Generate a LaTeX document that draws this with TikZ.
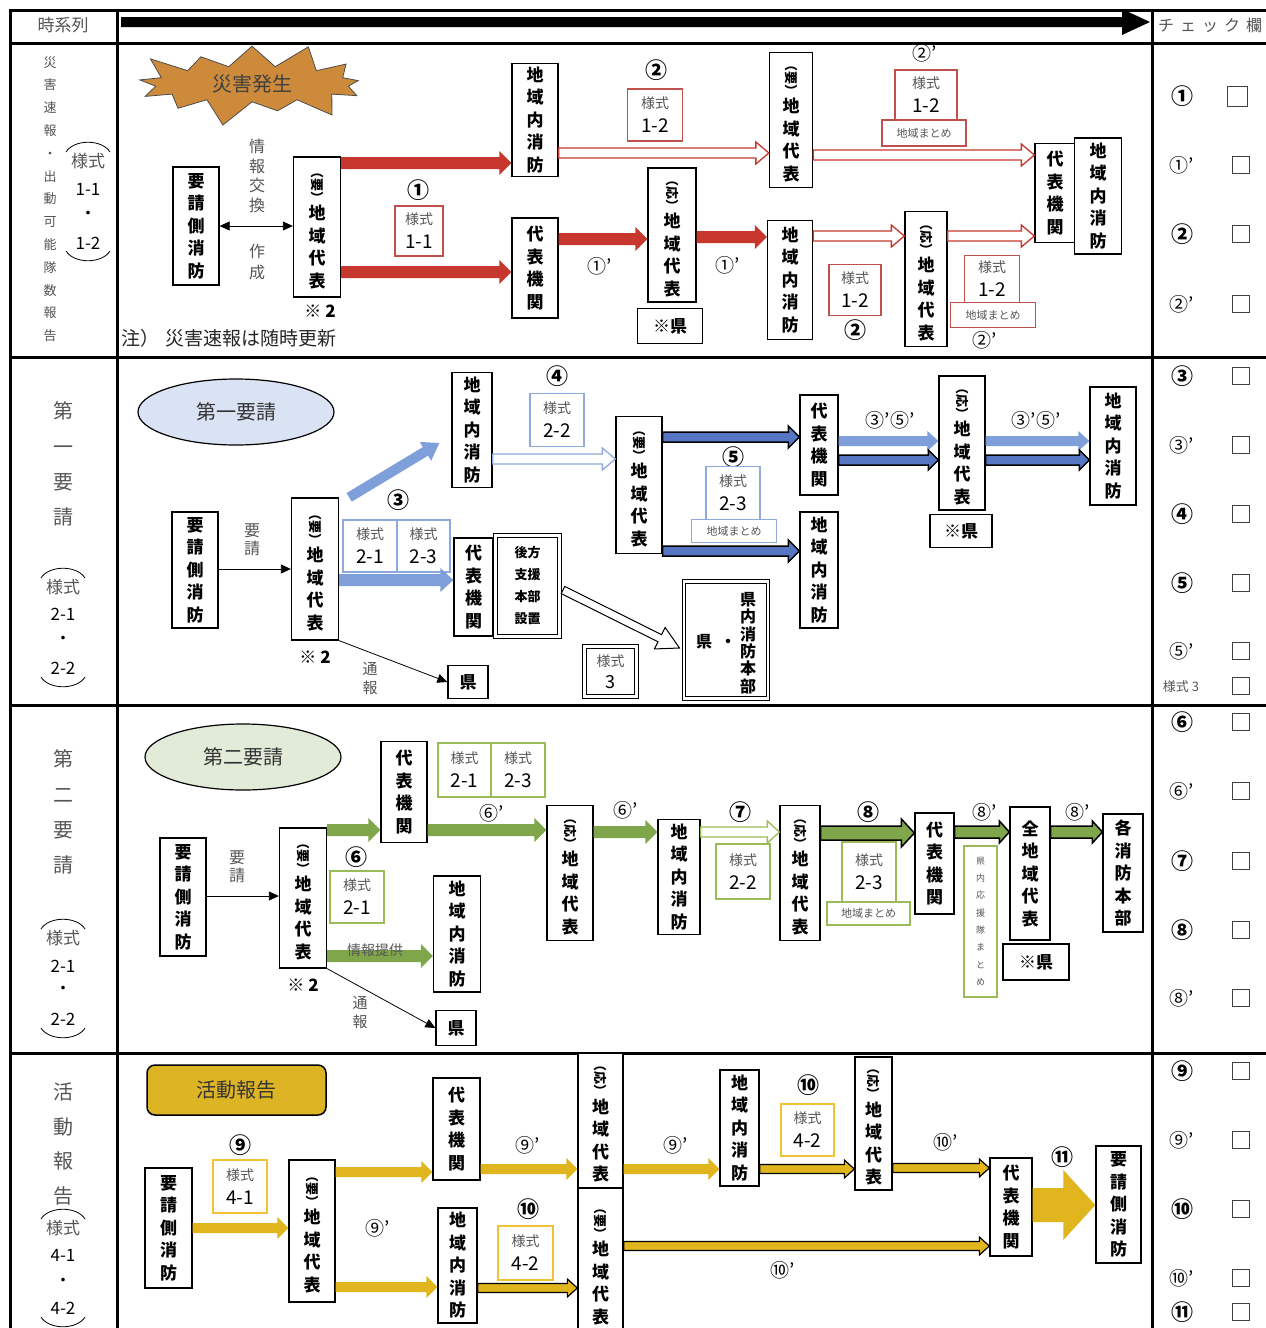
\documentclass[tikz,border=0pt]{standalone}
\usepackage{fontspec}
\usepackage{graphicx}
\setmainfont{Noto Sans CJK JP}
\usetikzlibrary{calc,arrows.meta,shapes.symbols,shapes.geometric}
\definecolor{ared}{HTML}{C8372D}
\definecolor{bred}{HTML}{C0504D}
\definecolor{ablue}{HTML}{7F9FDA}
\definecolor{bblue}{HTML}{8EA9DB}
\definecolor{dblue}{HTML}{5676C4}
\definecolor{agreen}{HTML}{80A64B}
\definecolor{bgreen}{HTML}{9BBB59}
\definecolor{agold}{HTML}{E0B51E}
\definecolor{bgold}{HTML}{F1C232}
\definecolor{gold2}{HTML}{DDB524}
\definecolor{burst}{HTML}{CD8A3B}
\definecolor{ellA}{HTML}{DAE3F3}
\definecolor{ellB}{HTML}{E2EBD8}
\definecolor{tgray}{HTML}{555555}
\newcommand\fs[2]{\fontsize{#1}{#2}\selectfont}
\newcommand\yo{\rotatebox{-90}{\fs{13}{13}（要）}}
\newcommand\oo{\rotatebox{-90}{\fs{13}{13}（応）}}
\newcommand\ys[1]{{\fs{14}{14}\color{tgray}様式}\\{\fs{19}{19}#1}}
% block arrow: [style]{from}{to}{half body}{half head}{head length}
\newcommand\barrow[6][]{%
  \path[#1] let \p1=(#2), \p2=(#3),
    \n1={atan2(\y2-\y1,\x2-\x1)}, \n2={veclen(\x2-\x1,\y2-\y1)} in
    ($(\p1)+(\n1+90:#4)$) -- ($(\p1)+(\n1:\n2*1pt-#6)+(\n1+90:#4)$)
    -- ($(\p1)+(\n1:\n2*1pt-#6)+(\n1+90:#5)$) -- (\p2)
    -- ($(\p1)+(\n1:\n2*1pt-#6)+(\n1-90:#5)$) -- ($(\p1)+(\n1:\n2*1pt-#6)+(\n1-90:#4)$)
    -- ($(\p1)+(\n1-90:#4)$) -- cycle;}
\begin{document}
\begin{tikzpicture}[x=1pt,y=-1pt,
  vb/.style={draw, line width=1.3pt, inner sep=0pt, align=center, fill=white, font=\fs{17}{22.5}\bfseries},
  fb/.style={draw=#1, line width=1.2pt, fill=white, inner sep=0pt, align=center, font=\fs{19}{24}},
  mb/.style={draw=#1, line width=1.2pt, fill=white, inner sep=0pt, font=\fs{11}{11}\color{tgray}},
  dbx/.style={draw, double, double distance=2.2pt, line width=1pt, inner sep=0pt, align=center, fill=white},
  lbl/.style={inner sep=0pt, align=center},
  cn/.style={inner sep=0pt, font=\fs{19}{19}},
  cb/.style={inner sep=0pt, font=\fs{22}{22}\bfseries},
  chk/.style={draw=black!75, line width=0.8pt, minimum size=17pt, inner sep=0pt},
  thinar/.style={line width=0.8pt, -{Triangle[length=10pt,width=9pt]}},
  vt/.style={inner sep=0pt, align=center, text=tgray},
  ]
\useasboundingbox (0,0) rectangle (1266,1328);
\fill[white] (0,0) rectangle (1266,1328);
% ---------- frame ----------
\draw[line width=3pt] (10,10) rectangle (1290,1350);
\foreach \yy in {43,357,705,1053} \draw[line width=3pt] (10,\yy) -- (1290,\yy);
\draw[line width=3pt] (117,10) -- (117,1350);
\draw[line width=3pt] (1152,10) -- (1152,1350);
% header
\node[lbl, font=\fs{17}{17}, text=tgray] (hd1) at (63,25) {時系列};
\coordinate (h0) at (121,22);
\coordinate (h1) at (1150,22);
\barrow[fill=black]{h0}{h1}{5pt}{13pt}{28pt}
\node[lbl, anchor=west, font=\fs{16}{16}, text=tgray] (hd2) at (1158,25) {チ\hspace{6pt}ェ\hspace{6pt}ッ\hspace{6pt}ク\hspace{6pt}欄};

% ---------- left column ----------
\node[vt, font=\fs{13}{22.8}] (l1) at (50,199) {災\\害\\速\\報\\・\\出\\動\\可\\能\\隊\\数\\報\\告};
\node[vt, font=\fs{17}{17}] (l1a) at (88,161) {様式};
\node[lbl, font=\fs{17}{17}] (l1b) at (88,189) {1-1};
\node[lbl, font=\fs{17}{17}] (l1c) at (88,215) {・};
\node[lbl, font=\fs{17}{17}] (l1d) at (88,243) {1-2};
\draw[line width=0.8pt] (66,152) .. controls (74,139) and (102,139) .. (110,152);
\draw[line width=0.8pt] (66,251) .. controls (74,264) and (102,264) .. (110,251);

\node[vt, font=\fs{20}{35.2}] (l2) at (63,464) {第\\一\\要\\請};
\node[vt, font=\fs{17}{17}] (l2a) at (63,587) {様式};
\node[lbl, font=\fs{17}{17}] (l2b) at (63,614) {2-1};
\node[lbl, font=\fs{17}{17}] (l2c) at (63,640) {・};
\node[lbl, font=\fs{17}{17}] (l2d) at (63,668) {2-2};
\draw[line width=0.8pt] (41,578) .. controls (49,565) and (77,565) .. (85,578);
\draw[line width=0.8pt] (41,677) .. controls (49,690) and (77,690) .. (85,677);

\node[vt, font=\fs{20}{35.2}] (l3) at (63,812) {第\\二\\要\\請};
\node[vt, font=\fs{17}{17}] (l3a) at (63,938) {様式};
\node[lbl, font=\fs{17}{17}] (l3b) at (63,966) {2-1};
\node[lbl, font=\fs{17}{17}] (l3c) at (63,990) {・};
\node[lbl, font=\fs{17}{17}] (l3d) at (63,1019) {2-2};
\draw[line width=0.8pt] (41,929) .. controls (49,916) and (77,916) .. (85,929);
\draw[line width=0.8pt] (41,1028) .. controls (49,1041) and (77,1041) .. (85,1028);

\node[vt, font=\fs{20}{34.8}] (l4) at (63,1144) {活\\動\\報\\告};
\node[vt, font=\fs{17}{17}] (l4a) at (63,1228) {様式};
\node[lbl, font=\fs{17}{17}] (l4b) at (63,1255) {4-1};
\node[lbl, font=\fs{17}{17}] (l4c) at (63,1282) {・};
\node[lbl, font=\fs{17}{17}] (l4d) at (63,1308) {4-2};
\draw[line width=0.8pt] (41,1219) .. controls (49,1206) and (77,1206) .. (85,1219);
\draw[line width=0.8pt] (41,1317) .. controls (49,1330) and (77,1330) .. (85,1317);

% ---------- check column ----------
\node[cb] (k1) at (1182,96) {①};   \node[chk, minimum size=20pt] (q1) at (1237,96) {};
\node[cn] (k2) at (1182,165) {①’}; \node[chk] (q2) at (1241,165) {};
\node[cb] (k3) at (1182,234) {②};  \node[chk] (q3) at (1241,234) {};
\node[cn] (k4) at (1182,304) {②’}; \node[chk] (q4) at (1241,304) {};
\node[cb] (k5) at (1182,376) {③};  \node[chk] (q5) at (1241,376) {};
\node[cn] (k6) at (1182,445) {③’}; \node[chk] (q6) at (1241,445) {};
\node[cb] (k7) at (1182,514) {④};  \node[chk] (q7) at (1241,514) {};
\node[cb] (k8) at (1182,583) {⑤};  \node[chk] (q8) at (1241,583) {};
\node[cn] (k9) at (1182,651) {⑤’}; \node[chk] (q9) at (1241,651) {};
\node[lbl, font=\fs{13}{13}, text=tgray] (k10) at (1181,687) {様式 3}; \node[chk] (q10) at (1241,686) {};
\node[cb] (k11) at (1182,722) {⑥};  \node[chk] (q11) at (1241,722) {};
\node[cn] (k12) at (1182,791) {⑥’}; \node[chk] (q12) at (1241,791) {};
\node[cb] (k13) at (1182,861) {⑦};  \node[chk] (q13) at (1241,861) {};
\node[cb] (k14) at (1182,930) {⑧};  \node[chk] (q14) at (1241,930) {};
\node[cn] (k15) at (1182,998) {⑧’}; \node[chk] (q15) at (1241,998) {};
\node[cb] (k16) at (1182,1071) {⑨};  \node[chk] (q16) at (1241,1071) {};
\node[cn] (k17) at (1182,1140) {⑨’}; \node[chk] (q17) at (1241,1140) {};
\node[cb] (k18) at (1182,1209) {⑩};  \node[chk] (q18) at (1241,1209) {};
\node[cn] (k19) at (1182,1278) {⑩’}; \node[chk] (q19) at (1241,1278) {};
\node[cb] (k20) at (1182,1312) {⑪};  \node[chk] (q20) at (1241,1312) {};

% =============== SECTION 1 ===============
\node[starburst, draw=black!70, line width=0.8pt, fill=burst, minimum width=250pt, minimum height=82pt,
      starburst points=13, starburst point height=28pt, font=\fs{20}{20}, text=black!75] (burst) at (252,84) {災害発生};
\node[vb, minimum width=46, minimum height=118] (a1) at (196,226) {要\\請\\側\\消\\防};
\node[vb, minimum width=47, minimum height=140] (a2) at (317,227) {\yo\\地\\域\\代\\表};
\node[lbl, font=\fs{17}{17}\bfseries] (a2n) at (320,311) {※ 2};
\node[vt, font=\fs{16}{19.5}] (t1) at (257,176) {情\\報\\交\\換};
\node[vt, font=\fs{16}{21}] (t2) at (257,262) {作\\成};
\draw[line width=0.8pt, {Triangle[length=10pt,width=9pt]}-{Triangle[length=10pt,width=9pt]}] (a1.east) -- (a1.east -| a2.west);
\node[vb, minimum width=46, minimum height=113] (a3) at (535,120) {地\\域\\内\\消\\防};
\node[vb, minimum width=46, minimum height=100] (a4) at (535,268) {代\\表\\機\\関};
\node[vb, minimum width=43, minimum height=135] (a5) at (791,120) {\yo\\地\\域\\代\\表};
\node[vb, minimum width=40, minimum height=99] (a6) at (1055,193) {代\\表\\機\\関};
\node[vb, minimum width=47, minimum height=116] (a7) at (1098,196) {地\\域\\内\\消\\防};
\node[vb, minimum width=48, minimum height=134] (a8) at (672,235) {\oo\\地\\域\\代\\表};
\node[vb, minimum width=65, minimum height=35] (a8k) at (670,326) {※県};
\node[vb, minimum width=45, minimum height=119] (a9) at (790,280) {地\\域\\内\\消\\防};
\node[vb, minimum width=42, minimum height=135] (a10) at (926,279) {\oo\\地\\域\\代\\表};

\barrow[fill=ared]{a2.east |- 0,163}{a3.west |- 0,163}{6pt}{12pt}{12pt}
\barrow[fill=ared]{a2.east |- 0,272}{a4.west |- 0,272}{6pt}{12pt}{12pt}
\barrow[fill=ared]{a4.east |- 0,239}{a8.west |- 0,239}{6pt}{12pt}{12pt}
\barrow[fill=ared]{a8.east |- 0,237}{a9.west |- 0,237}{6pt}{12pt}{12pt}
\barrow[draw=ared, fill=white, line width=1.3pt]{a3.east |- 0,153}{a5.west |- 0,153}{5pt}{11pt}{13pt}
\barrow[draw=ared, fill=white, line width=1.3pt]{a5.east |- 0,155}{a6.west |- 0,155}{5pt}{11pt}{13pt}
\barrow[draw=ared, fill=white, line width=1.3pt]{a9.east |- 0,236}{a10.west |- 0,236}{5pt}{11pt}{13pt}
\barrow[draw=ared, fill=white, line width=1.3pt]{a10.east |- 0,236}{a6.west |- 0,236}{5pt}{11pt}{13pt}

\node[cb] (c1a) at (418,190) {①};
\node[fb=bred, minimum width=48, minimum height=50] (f1a) at (419,231) {\ys{1-1}};
\node[cb] (c1b) at (656,70) {②};
\node[fb=bred, minimum width=55, minimum height=52] (f1b) at (655,115) {\ys{1-2}};
\node[cn] (c1c) at (925,53) {②’};
\node[fb=bred, minimum width=62, minimum height=50] (f1c) at (926,95) {\ys{1-2}};
\node[mb=bred, minimum width=84, minimum height=26] (m1c) at (924,133) {地域まとめ};
\node[cn] (c1d) at (600,266) {①’};
\node[cn] (c1e) at (728,265) {①’};
\node[fb=bred, minimum width=52, minimum height=51] (f1d) at (855,290) {\ys{1-2}};
\node[cb] (c1f) at (855,330) {②};
\node[fb=bred, minimum width=55, minimum height=47] (f1e) at (992,279) {\ys{1-2}};
\node[mb=bred, minimum width=85, minimum height=25] (m1e) at (993,315) {地域まとめ};
\node[cn] (c1g) at (985,340) {②’};
\node[lbl, anchor=west, font=\fs{19}{19}, text=black!85] (note) at (121,338) {注）\hspace{6pt}災害速報は随時更新};

% =============== SECTION 2 ===============
\node[ellipse, draw, line width=1.2pt, fill=ellA, minimum width=196pt, minimum height=66pt, font=\fs{20}{20}, text=black!80] (e1) at (236,412) {第一要請};
\node[vb, minimum width=46, minimum height=116] (b1) at (195,570) {要\\請\\側\\消\\防};
\node[vb, minimum width=47, minimum height=142] (b2) at (315,569) {\yo\\地\\域\\代\\表};
\node[lbl, font=\fs{17}{17}\bfseries] (b2n) at (315,657) {※ 2};
\node[vt, font=\fs{16}{18}] (t3) at (252,540) {要\\請};
\draw[thinar] (b1.east |- 0,569) -- (b2.west |- 0,569);
\node[vb, minimum width=40, minimum height=33] (b3) at (468,682) {県};
\node[vt, font=\fs{15}{19}] (t4) at (370,678) {通\\報};
\draw[thinar] (b2.south east) -- (b3.west);
\node[vb, minimum width=40, minimum height=115] (b4) at (472,430) {地\\域\\内\\消\\防};
\coordinate (b2d) at ($(b2.north east)+(10,0)$);
\coordinate (b4d) at ($(b4.west)+(-12,13)$);
\barrow[fill=ablue]{b2d}{b4d}{5pt}{11pt}{16pt}
\node[cb] (c2a) at (557,376) {④};
\node[fb=bblue, minimum width=54, minimum height=53] (f2a) at (557,420) {\ys{2-2}};
\node[vb, minimum width=46, minimum height=137] (b5) at (639,485) {\yo\\地\\域\\代\\表};
\barrow[draw=bblue, fill=white, line width=1.3pt]{b4.east |- 0,459}{b5.west |- 0,459}{5pt}{11pt}{13pt}
\node[cb] (c2b) at (398,500) {③};
\node[fb=bblue, minimum width=54, minimum height=52] (f2b) at (370,546) {\ys{2-1}};
\node[fb=bblue, minimum width=53, minimum height=52] (f2c) at (423.5,546) {\ys{2-3}};
\node[vb, minimum width=39, minimum height=98] (b6) at (473.5,587) {代\\表\\機\\関};
\barrow[fill=ablue]{b2.east |- 0,580}{b6.west |- 0,580}{6pt}{12pt}{13pt}
\node[dbx, minimum width=64, minimum height=101, font=\fs{13}{22}\bfseries] (b7) at (527.5,586) {後方\\支援\\本部\\設置};
\node[dbx, minimum width=84, minimum height=117] (b8) at (726,640) {};
\node[lbl, font=\fs{16}{16}\bfseries] (b8a) at (716,642) {県\hspace{8pt}・};
\node[lbl, font=\fs{16}{17.4}\bfseries] (b8b) at (748,643) {県\\内\\消\\防\\本\\部};
\node[dbx, minimum width=52, minimum height=50, font=\fs{18}{22}] (b9) at (610.5,671.5) {{\fs{14}{14}\color{tgray}様式}\\3};
\coordinate (b7d) at ($(b7.east)+(3,4)$);
\coordinate (b8d) at ($(b8.west)+(-4,8)$);
\barrow[draw=black, fill=white, line width=1pt]{b7d}{b8d}{4pt}{12pt}{22pt}
\node[vb, minimum width=38, minimum height=100] (b10) at (819,445) {代\\表\\機\\関};
\node[vb, minimum width=38, minimum height=116] (b11) at (819,570) {地\\域\\内\\消\\防};
\barrow[draw=black, fill=dblue, line width=1.5pt]{b5.east |- 0,437}{b10.west |- 0,437}{5pt}{11pt}{11pt}
\barrow[draw=black, fill=dblue, line width=1.5pt]{b5.east |- 0,551}{b11.west |- 0,551}{5pt}{11pt}{11pt}
\node[cb] (c2c) at (733,457) {⑤};
\node[fb=bblue, minimum width=54, minimum height=53] (f2d) at (733,493) {\ys{2-3}};
\node[mb=bblue, minimum width=85, minimum height=23] (m2d) at (734,531) {地域まとめ};
\node[vb, minimum width=46, minimum height=134] (b12) at (962,443) {\oo\\地\\域\\代\\表};
\node[vb, minimum width=62, minimum height=33] (b12k) at (961,531) {※県};
\node[vb, minimum width=46, minimum height=118] (b13) at (1113,446) {地\\域\\内\\消\\防};
\node[cn] (c2e) at (890,420) {③’⑤’};
\node[cn] (c2f) at (1036,420) {③’⑤’};
\barrow[fill=ablue]{b10.east |- 0,441}{b12.west |- 0,441}{5pt}{10pt}{11pt}
\barrow[draw=black, fill=dblue, line width=1.5pt]{b10.east |- 0,460}{b12.west |- 0,460}{5pt}{10pt}{10pt}
\barrow[fill=ablue]{b12.east |- 0,441}{b13.west |- 0,441}{5pt}{10pt}{11pt}
\barrow[draw=black, fill=dblue, line width=1.5pt]{b12.east |- 0,460}{b13.west |- 0,460}{5pt}{10pt}{10pt}

% =============== SECTION 3 ===============
\node[ellipse, draw, line width=1.2pt, fill=ellB, minimum width=196pt, minimum height=66pt, font=\fs{20}{20}, text=black!80] (e2) at (243,757) {第二要請};
\node[vb, minimum width=46, minimum height=118] (g1) at (183,897) {要\\請\\側\\消\\防};
\node[vb, minimum width=47, minimum height=140] (g2) at (303,898) {\yo\\地\\域\\代\\表};
\node[lbl, font=\fs{17}{17}\bfseries] (g2n) at (303,985) {※ 2};
\node[vt, font=\fs{16}{18}] (t5) at (237,867) {要\\請};
\draw[thinar] (g1.east |- 0,896) -- (g2.west |- 0,896);
\node[vb, minimum width=40, minimum height=35] (g3) at (456,1028) {県};
\node[vt, font=\fs{15}{19}] (t6) at (360,1012) {通\\報};
\draw[thinar] (g2.south east) -- (g3.west);
\node[vb, minimum width=46, minimum height=101] (g4) at (404,792) {代\\表\\機\\関};
\barrow[fill=agreen]{g2.east |- 0,830}{g4.west |- 0,830}{6pt}{12pt}{12pt}
\node[fb=bgreen, minimum width=53, minimum height=54] (f3a) at (464.5,770) {\ys{2-1}};
\node[fb=bgreen, minimum width=54, minimum height=54] (f3b) at (518,770) {\ys{2-3}};
\node[cn] (c3a) at (492,813) {⑥’};
\node[vb, minimum width=46, minimum height=135] (g5) at (570,873) {\oo\\地\\域\\代\\表};
\barrow[fill=agreen]{g4.east |- 0,830}{g5.west |- 0,830}{6pt}{12pt}{12pt}
\node[cb] (c3b) at (356,857) {⑥};
\node[fb=bgreen, minimum width=54, minimum height=52] (f3c) at (357,897) {\ys{2-1}};
\node[vb, minimum width=47, minimum height=116] (g6) at (457,934) {地\\域\\内\\消\\防};
\barrow[fill=agreen]{g2.east |- 0,956}{g6.west |- 0,956}{6pt}{12pt}{12pt}
\node[lbl, font=\fs{14}{14}, text=tgray] (t7) at (375,950) {情報提供};
\node[cn] (c3c) at (626,810) {⑥’};
\node[vb, minimum width=42, minimum height=115] (g7) at (679,877) {地\\域\\内\\消\\防};
\barrow[fill=agreen]{g5.east |- 0,832}{g7.west |- 0,832}{6pt}{12pt}{12pt}
\node[cb] (c3d) at (740,812) {⑦};
\node[vb, minimum width=40, minimum height=135] (g8) at (800,873) {\oo\\地\\域\\代\\表};
\barrow[draw=bgreen, fill=white, line width=1.3pt]{g7.east |- 0,832}{g8.west |- 0,832}{5pt}{11pt}{12pt}
\node[fb=bgreen, minimum width=54, minimum height=55] (f3d) at (743,871.5) {\ys{2-2}};
\node[cb] (c3e) at (868,812) {⑧};
\node[vb, minimum width=39, minimum height=101] (g9) at (934.5,863.5) {代\\表\\機\\関};
\barrow[draw=black, fill=agreen, line width=1.5pt]{g8.east |- 0,833}{g9.west |- 0,833}{7pt}{14pt}{13pt}
\node[fb=bgreen, minimum width=54, minimum height=60] (f3e) at (869,872) {\ys{2-3}};
\node[mb=bgreen, minimum width=83, minimum height=23] (m3e) at (868.5,913.5) {地域まとめ};
\node[cn] (c3f) at (985,812) {⑧’};
\node[vb, minimum width=40, minimum height=133] (g10) at (1030,873.5) {全\\地\\域\\代\\表};
\barrow[draw=black, fill=agreen, line width=1.5pt]{g9.east |- 0,832}{g10.west |- 0,832}{6pt}{11pt}{10pt}
\node[draw=bgreen, line width=1.2pt, minimum width=33, minimum height=151, inner sep=0pt, align=center, font=\fs{9}{17.3}, text=tgray] (g11) at (980.5,921.5) {県\\内\\応\\援\\隊\\ま\\と\\め};
\node[vb, minimum width=66, minimum height=36] (g10k) at (1036,962) {※県};
\node[cn] (c3g) at (1078,812) {⑧’};
\node[vb, minimum width=40, minimum height=118] (g12) at (1123,873) {各\\消\\防\\本\\部};
\barrow[draw=black, fill=agreen, line width=1.5pt]{g10.east |- 0,832}{g12.west |- 0,832}{6pt}{11pt}{10pt}

% =============== SECTION 4 ===============
\node[draw, line width=1.5pt, rounded corners=8pt, fill=gold2, minimum width=179, minimum height=50, font=\fs{20}{20}, text=black!80] (r1) at (236.5,1090) {活動報告};
\node[vb, minimum width=47, minimum height=120] (d1) at (168.5,1228) {要\\請\\側\\消\\防};
\node[cb] (c4a) at (240,1145) {⑨};
\node[fb=bgold, minimum width=54, minimum height=53] (f4a) at (240,1186.5) {\ys{4-1}};
\node[vb, minimum width=46, minimum height=142] (d2) at (312,1231) {\yo\\地\\域\\代\\表};
\barrow[fill=agold]{d1.east |- 0,1228}{d2.west |- 0,1228}{5pt}{11pt}{11pt}
\node[vb, minimum width=47, minimum height=102] (d3) at (456.5,1129) {代\\表\\機\\関};
\node[vb, minimum width=39, minimum height=115] (d4) at (457.5,1265.5) {地\\域\\内\\消\\防};
\barrow[fill=agold]{d2.east |- 0,1172}{d3.west |- 0,1172}{5pt}{11pt}{11pt}
\barrow[fill=agold]{d2.east |- 0,1287}{d4.west |- 0,1287}{5pt}{11pt}{11pt}
\node[cn] (c4b) at (378,1228) {⑨’};
\node[vb, minimum width=45, minimum height=135] (d5) at (600.5,1120.5) {\oo\\地\\域\\代\\表};
\node[vb, minimum width=45, minimum height=150] (d6) at (600.5,1263) {\yo\\地\\域\\代\\表};
\node[cn] (c4c) at (528,1145) {⑨’};
\barrow[fill=agold]{d3.east |- 0,1169}{d5.west |- 0,1169}{5pt}{11pt}{11pt}
\node[cb] (c4d) at (528,1209) {⑩};
\node[fb=bgold, minimum width=55, minimum height=54] (f4b) at (525.5,1253) {\ys{4-2}};
\barrow[draw=black, fill=agold, line width=1.2pt]{d4.east |- 0,1288}{d6.west |- 0,1288}{4.5pt}{9pt}{10pt}
\node[cn] (c4e) at (676,1145) {⑨’};
\node[vb, minimum width=39, minimum height=116] (d7) at (739.5,1128) {地\\域\\内\\消\\防};
\barrow[fill=agold]{d5.east |- 0,1169}{d7.west |- 0,1169}{5pt}{11pt}{11pt}
\node[cb] (c4f) at (808,1085) {⑩};
\node[fb=bgold, minimum width=53, minimum height=52] (f4c) at (807.5,1130) {\ys{4-2}};
\node[vb, minimum width=37, minimum height=133] (d8) at (873.5,1123.5) {\oo\\地\\域\\代\\表};
\barrow[draw=black, fill=agold, line width=1.2pt]{d7.east |- 0,1169}{d8.west |- 0,1169}{4.5pt}{9pt}{10pt}
\node[cn] (c4g) at (946,1142) {⑩’};
\node[vb, minimum width=42, minimum height=98] (d9) at (1011,1207) {代\\表\\機\\関};
\barrow[draw=black, fill=agold, line width=1.2pt]{d8.east |- 0,1168}{d9.west |- 0,1168}{4.5pt}{9pt}{10pt}
\barrow[draw=black, fill=agold, line width=1.2pt]{d6.east |- 0,1246}{d9.west |- 0,1246}{4.5pt}{9pt}{10pt}
\node[cn] (c4h) at (783,1270) {⑩’};
\node[cb] (c4i) at (1062,1157) {⑪};
\node[vb, minimum width=45, minimum height=117] (d10) at (1118.5,1204.5) {要\\請\\側\\消\\防};
\barrow[fill=agold]{d9.east |- 0,1205}{d10.west |- 0,1205}{17pt}{35pt}{32pt}
\end{tikzpicture}
\end{document}
